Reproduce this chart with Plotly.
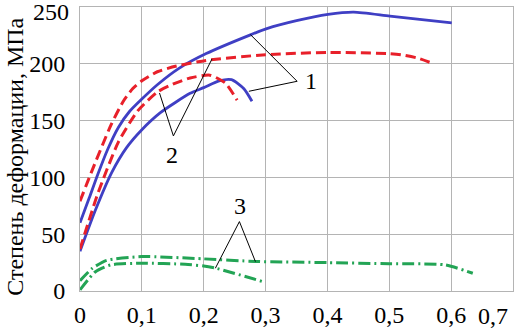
import plotly.graph_objects as go

# ---- tick labels ----
x_ticks = [0, 0.1, 0.2, 0.3, 0.4, 0.5, 0.6, 0.7]
x_tick_labels = ["0", "0,1", "0,2", "0,3", "0,4", "0,5", "0,6", ""]
x_last_label = "0,7"
y_ticks = [0, 50, 100, 150, 200, 250]
y_tick_labels = ["0", "50", "100", "150", "200", ""]
y_last_label = "250"
y_title = "Степень деформации, МПа"

# ---- series ----
blue_upper_x = [0, 0.015, 0.029, 0.045, 0.062, 0.08, 0.1, 0.126, 0.16, 0.204, 0.2755, 0.302, 0.35, 0.401, 0.4425, 0.501, 0.601]
blue_upper_y = [60, 82, 103, 125, 144, 158, 169, 182, 196, 209, 225.5, 231, 238, 243.5, 245.5, 242, 236]

blue_lower_x = [0, 0.024, 0.051, 0.075, 0.1, 0.13, 0.178, 0.2, 0.225, 0.245, 0.265, 0.278]
blue_lower_y = [35, 70, 104, 126, 142, 157, 174, 179, 185, 186, 178, 167]

red_upper_x = [0, 0.018, 0.05, 0.07, 0.085, 0.1, 0.125, 0.156, 0.204, 0.3, 0.4, 0.5, 0.519, 0.546, 0.572]
red_upper_y = [79, 104, 146, 167, 178, 185, 193, 198, 203, 208, 210, 209, 208, 205, 200]

red_lower_x = [0, 0.029, 0.062, 0.094, 0.126, 0.15, 0.178, 0.21, 0.235, 0.254]
red_lower_y = [37, 86, 131, 159, 175.5, 182, 187.5, 190, 183, 168]

green_upper_x = [0, 0.02, 0.043, 0.1, 0.2, 0.284, 0.4, 0.5, 0.59, 0.635]
green_upper_y = [9, 20, 27, 30.3, 28.3, 26, 25, 24, 23, 15.6]

green_lower_x = [0, 0.025, 0.05, 0.1, 0.17, 0.2, 0.22, 0.297]
green_lower_y = [1, 17, 23, 24.5, 23.5, 22, 20, 8]

# ---- leader lines and labels ----
leader1_x = [0.2755, 0.351, 0.273]
leader1_y = [225.7, 184.6, 175.8]
leader2_x = [0.1285, 0.151, 0.2134]
leader2_y = [174.3, 136.5, 204.3]
leader3_x = [0.2188, 0.2577, 0.2836]
leader3_y = [20, 61.1, 25.9]
label_text = ["1", "2", "3"]
label_x = [0.3728, 0.1486, 0.258]
label_y = [184.5, 120, 74.5]

BLUE = "#3f3fc4"
RED = "#e8202a"
GREEN = "#23a455"
FONT = "Times New Roman, Liberation Serif, Tinos, Noto Serif, DejaVu Serif, serif"

fig = go.Figure()

def add_line(x, y, color, dash, width):
    fig.add_trace(go.Scatter(x=x, y=y, mode="lines",
                             line=dict(color=color, width=width, dash=dash, shape="spline", smoothing=0.6),
                             hoverinfo="skip", showlegend=False))

add_line(blue_upper_x, blue_upper_y, BLUE, "solid", 2.8)
add_line(blue_lower_x, blue_lower_y, BLUE, "solid", 2.8)
add_line(red_upper_x, red_upper_y, RED, "10px,5px", 3)
add_line(red_lower_x, red_lower_y, RED, "10px,5px", 3)
add_line(green_upper_x, green_upper_y, GREEN, "12px,4px,2px,4px", 3)
add_line(green_lower_x, green_lower_y, GREEN, "12px,4px,2px,4px", 3)

for lx, ly in [(leader1_x, leader1_y), (leader2_x, leader2_y), (leader3_x, leader3_y)]:
    fig.add_trace(go.Scatter(x=lx, y=ly, mode="lines", line=dict(color="black", width=1),
                             hoverinfo="skip", showlegend=False))

for t, x, y in zip(label_text, label_x, label_y):
    fig.add_annotation(x=x, y=y, text=t, showarrow=False, xanchor="center", yanchor="middle",
                       font=dict(family=FONT, size=24, color="black"))

# last x tick label shifted inside the image, as in the reference
fig.add_annotation(x=0.7, xref="x", y=0, yref="paper", text=x_last_label, showarrow=False,
                   xanchor="right", yanchor="top", xshift=-3, yshift=-10,
                   font=dict(family=FONT, size=24, color="black"))
# top y tick label shifted down, as in the reference
fig.add_annotation(x=0, xref="paper", y=250, yref="y", text=y_last_label, showarrow=False,
                   xanchor="right", yanchor="middle", xshift=-9, yshift=-5,
                   font=dict(family=FONT, size=24, color="black"))

# y axis title
fig.add_annotation(x=-0.15, xref="paper", y=0.473, yref="paper", text=y_title, showarrow=False,
                   textangle=-90, xanchor="center", yanchor="middle",
                   font=dict(family=FONT, size=24, color="black"))

fig.update_layout(
    width=518, height=331, autosize=False,
    margin=dict(l=80, r=5, t=7, b=40),
    paper_bgcolor="white", plot_bgcolor="white",
    font=dict(family=FONT, size=24, color="black"),
    showlegend=False,
)
fig.update_xaxes(range=[0, 0.7], tickvals=x_ticks, ticktext=x_tick_labels,
                 showgrid=True, gridcolor="#b4b4b4", gridwidth=1,
                 showline=True, linecolor="#b4b4b4", linewidth=1, mirror=True,
                 zeroline=False, ticks="", ticklabelstandoff=2, automargin=False,
                 tickfont=dict(family=FONT, size=24, color="black"))
fig.update_yaxes(range=[0, 250], tickvals=y_ticks, ticktext=y_tick_labels,
                 showgrid=True, gridcolor="#b4b4b4", gridwidth=1,
                 showline=True, linecolor="#b4b4b4", linewidth=1, mirror=True,
                 zeroline=False, ticks="", ticklabelstandoff=9, automargin=False,
                 tickfont=dict(family=FONT, size=24, color="black"))

fig.write_html("out.html", config={"displayModeBar": False},
               post_script="document.body.style.margin='0';document.body.style.padding='0';")
